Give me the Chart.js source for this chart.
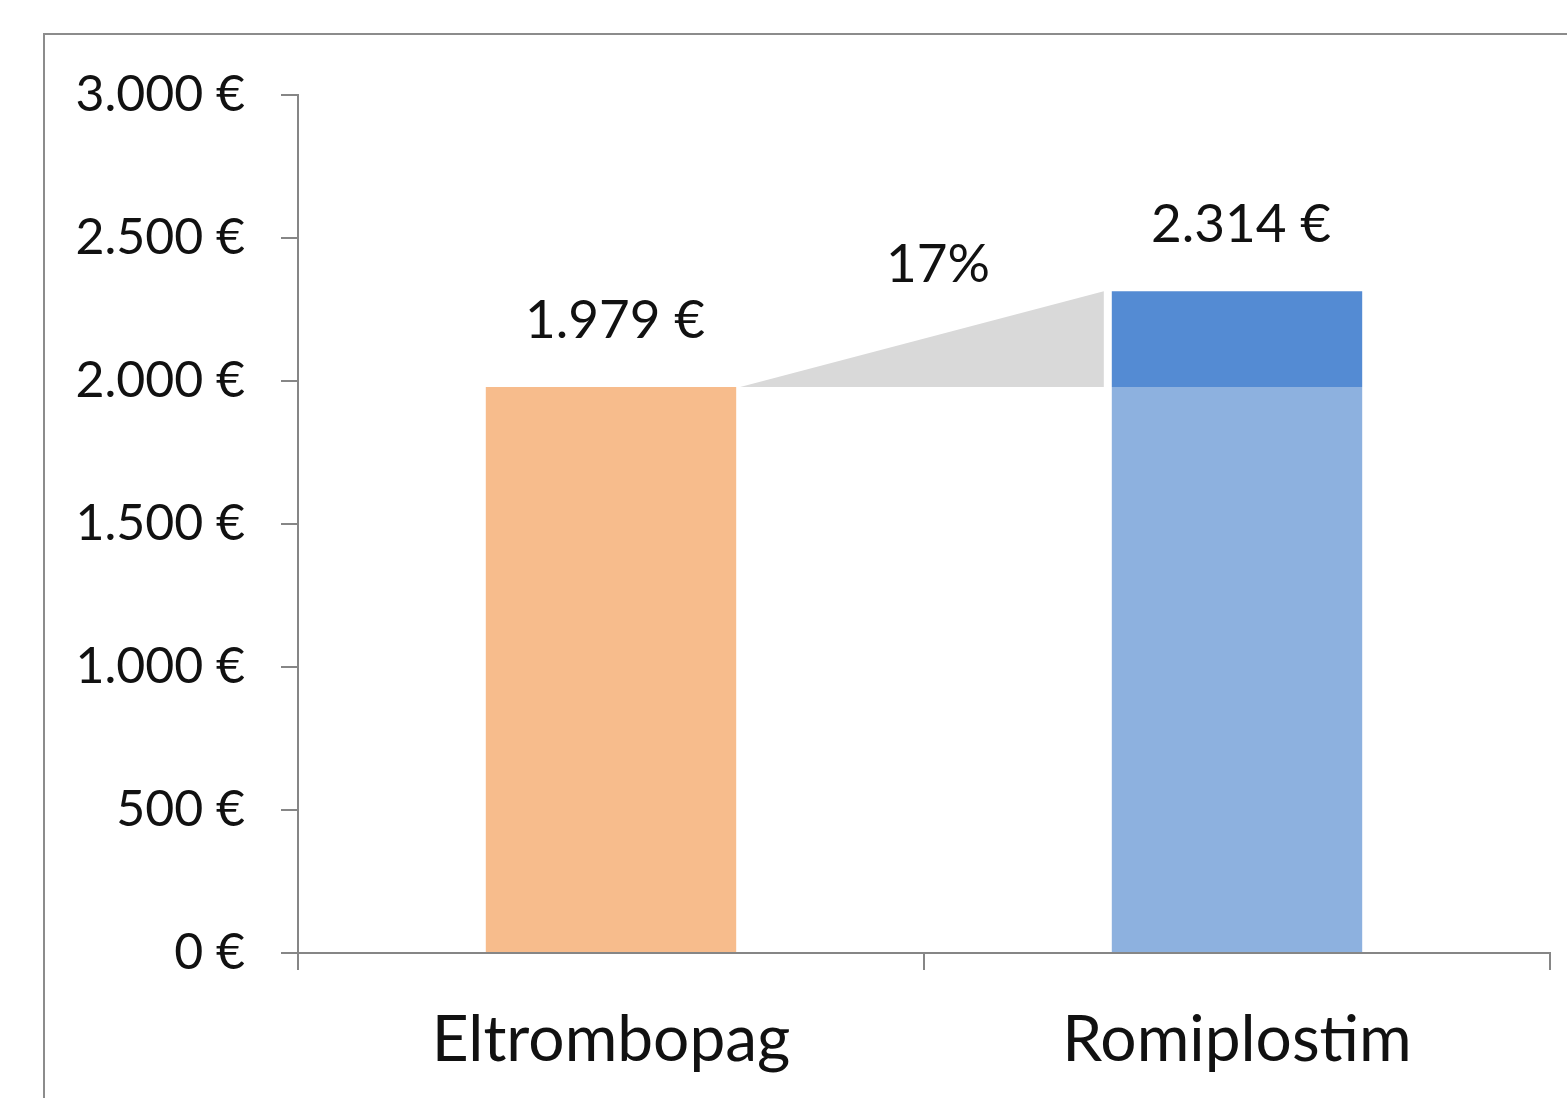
<!DOCTYPE html>
<html>
<head>
<meta charset="utf-8">
<script src="https://cdn.jsdelivr.net/npm/chart.js@4"></script>
<style>
  html, body { margin: 0; padding: 0; background: #fff; overflow: hidden; }
  #frame {
    position: absolute; left: 43px; top: 33px;
    width: 1700px; height: 1200px;
    border: 2px solid #8c8c8c;
  }
  #costChart { position: absolute; left: 0; top: 0; }
</style>
</head>
<body>
<div id="frame"></div>
<canvas id="costChart" width="1567" height="1098"></canvas>
<script>
// Costo per farmaco
const categories = ['Eltrombopag', 'Romiplostim'];
const costs = [1979, 2314];
const yMax = 3000;
const yStep = 500;

const colBase = ['#F7BC8C', '#8DB1DF'];
const colDiff = '#548BD3';
const colWedge = '#D9D9D9';
const axisGrey = '#868686';
const fontFamily = 'Lato, "Noto Sans", sans-serif';

function euro(v) {
    return String(v).replace(/\B(?=(\d{3})+(?!\d))/g, '.') + ' €';
}

// Parte comune e differenza sulla seconda barra
const baseData = costs.map(c => Math.min(c, costs[0]));
const diffData = costs.map(c => Math.max(0, c - costs[0]));
const pctIncrease = Math.round((costs[1] / costs[0] - 1) * 100);

// Triangolo grigio tra le due barre
const wedgePlugin = {
    id: 'wedge',
    beforeDatasetsDraw(chart) {
        const { ctx, scales: { y } } = chart;
        const bars = chart.getDatasetMeta(0).data;
        const x1 = bars[0].x + bars[0].width / 2 + 4;
        const x2 = bars[1].x - bars[1].width / 2 - 8;
        const yBase = y.getPixelForValue(costs[0]);
        const yTop = y.getPixelForValue(costs[1]);
        ctx.save();
        ctx.fillStyle = colWedge;
        ctx.beginPath();
        ctx.moveTo(x1, yBase);
        ctx.lineTo(x2, yTop);
        ctx.lineTo(x2, yBase);
        ctx.closePath();
        ctx.fill();
        ctx.restore();
    }
};

// Etichette dei valori e percentuale
const labelPlugin = {
    id: 'valueLabels',
    afterDatasetsDraw(chart) {
        const { ctx, scales: { y } } = chart;
        const bars = chart.getDatasetMeta(0).data;
        ctx.save();
        ctx.fillStyle = '#111';
        ctx.font = '53px ' + fontFamily;
        ctx.textAlign = 'center';
        ctx.textBaseline = 'middle';
        costs.forEach((c, i) => {
            ctx.fillText(euro(c), bars[i].x + 4, y.getPixelForValue(c) - 66);
        });
        const xMid = (bars[0].x + bars[0].width / 2 + bars[1].x - bars[1].width / 2) / 2;
        ctx.fillText(pctIncrease + '%', xMid + 14, y.getPixelForValue(costs[1]) - 26);
        ctx.restore();
    }
};

new Chart(document.getElementById('costChart'), {
    type: 'bar',
    data: {
        labels: categories,
        datasets: [
            { label: 'Base', data: baseData, backgroundColor: colBase },
            { label: 'Differenza', data: diffData, backgroundColor: colDiff }
        ]
    },
    options: {
        responsive: false,
        animation: false,
        layout: { padding: { left: 0, top: 95, right: 17, bottom: 0 } },
        datasets: { bar: { categoryPercentage: 1, barPercentage: 0.4 } },
        plugins: { legend: { display: false }, tooltip: { enabled: false } },
        scales: {
            x: {
                stacked: true,
                afterFit(scale) { scale.height = 145; },
                grid: {
                    offset: true,
                    drawOnChartArea: false,
                    drawTicks: true,
                    tickLength: 17,
                    color: axisGrey,
                    lineWidth: 2
                },
                border: { color: axisGrey, width: 2 },
                ticks: {
                    color: '#111',
                    font: { family: fontFamily, size: 64 },
                    padding: 32
                }
            },
            y: {
                stacked: true,
                min: 0,
                max: yMax,
                afterFit(scale) { scale.width = 298; },
                grid: {
                    drawOnChartArea: false,
                    drawTicks: true,
                    tickLength: 17,
                    color: axisGrey,
                    lineWidth: 2
                },
                border: { color: axisGrey, width: 2 },
                ticks: {
                    stepSize: yStep,
                    color: '#111',
                    padding: 36,
                    font: { family: fontFamily, size: 50 },
                    callback: v => euro(v)
                }
            }
        }
    },
    plugins: [wedgePlugin, labelPlugin]
});
</script>
</body>
</html>
